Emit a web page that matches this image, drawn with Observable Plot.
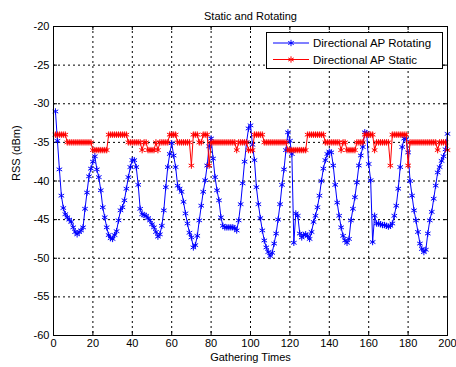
<!DOCTYPE html>
<html><head><meta charset="utf-8">
<script src="https://cdn.jsdelivr.net/npm/d3@7"></script>
<script src="https://cdn.jsdelivr.net/npm/@observablehq/plot@0.6"></script>
<style>html,body{margin:0;padding:0;background:#fff}svg{display:block}</style>
</head><body><div id="chart"></div>
<script>
const gatheringTimes = d3.range(1, 201);
const rotatingRSS = [
-31,-34.8,-38.5,-41.9,-43.5,-44.3,-44.7,-45,-45.3,-46,
-46.6,-46.9,-46.6,-46.4,-46,-43.6,-41.5,-39.4,-38.4,-37.5,
-36.8,-38.5,-39.5,-41.2,-43.4,-44.7,-46,-47,-47.4,-47.5,
-47,-46.5,-45.1,-43.8,-43.4,-42.5,-41,-39.5,-38.2,-37.3,
-37.3,-38.2,-40.5,-43.6,-44.3,-44.4,-44.5,-44.8,-45.1,-45.6,
-46,-46.6,-47.2,-46.9,-45.8,-43.8,-40.8,-38.2,-36.5,-35.1,
-36.7,-38.2,-40.6,-41,-41.4,-42.7,-44.2,-45.5,-46.7,-47.3,
-48.6,-48.3,-47.1,-45.1,-43.2,-41.4,-39.9,-38,-35.5,-34.5,
-37.1,-39.5,-41.2,-42.5,-44.7,-45.8,-46,-46,-46,-46,
-46,-46.1,-46.4,-45.1,-43,-40.3,-37.5,-35,-33.2,-32.8,
-35.3,-37.3,-40.8,-43,-44.8,-46.4,-47.7,-48.6,-49.2,-49.7,
-49.3,-48.1,-46.8,-45,-43,-40.5,-38.5,-36,-33.7,-34.8,
-36.5,-48,-44.2,-44.5,-46.8,-47.3,-47,-46.9,-47.1,-47.5,
-46.6,-45.3,-44.5,-43.4,-41.9,-40,-38.4,-37.3,-36.5,-36.2,
-36.3,-38,-40.5,-42.8,-44.5,-46,-47.1,-47.7,-48,-47.5,
-45.1,-43.6,-42.1,-40.2,-38,-36.7,-35.6,-33.7,-33.8,-37.8,
-39.9,-47.9,-44.5,-45.5,-45.5,-45.6,-45.7,-45.7,-45.8,-45.9,
-45.8,-45.5,-44.5,-43.2,-41,-38.2,-35.6,-34.5,-34.6,-36.3,
-40,-41.9,-43.8,-45.1,-46.6,-48.1,-48.8,-49.2,-48.9,-46.8,
-45.1,-44,-42.3,-40.6,-38.9,-38.2,-37.4,-36.8,-35.9,-33.9
];
const staticRSS = [
-34,-34,-34,-34,-34,-34,-35,-35,-35,-35,
-35,-35,-35,-35,-35,-35,-35,-35,-35,-36,
-36,-36,-36,-36,-36,-36,-36,-34,-34,-34,
-34,-34,-34,-34,-34,-34,-34,-35,-35,-35,
-35,-35,-35,-35,-36,-35,-35,-36,-36,-36,
-36,-35,-36,-35,-35,-35,-35,-35,-34,-34,
-34,-34,-35,-35,-35,-35,-35,-35,-35,-38,
-34,-34,-34,-35,-35,-34,-34,-34,-38,-35,
-35,-35,-35,-35,-35,-35,-35,-35,-35,-35,
-35,-35,-36,-35,-35,-35,-35,-35,-36,-36,
-36,-34,-34,-34,-34,-34,-35,-35,-35,-35,
-35,-35,-35,-35,-35,-35,-35,-35,-36,-36,
-36,-36,-36,-36,-36,-36,-36,-36,-34,-34,
-34,-34,-34,-34,-34,-34,-34,-35,-35,-35,
-35,-35,-35,-35,-35,-36,-35,-35,-36,-36,
-36,-36,-36,-35,-35,-35,-35,-34,-34,-34,
-34,-34,-36,-35,-35,-35,-35,-35,-35,-35,
-38,-34,-34,-34,-34,-34,-34,-34,-34,-38,
-35,-35,-35,-35,-35,-35,-35,-35,-35,-35,
-35,-35,-35,-35,-36,-35,-35,-35,-35,-36
];
const xTicks = [0,20,40,60,80,100,120,140,160,180,200];
const yTicks = [-60,-55,-50,-45,-40,-35,-30,-25,-20];
const seriesNames = ["Directional AP Rotating", "Directional AP Static"];
const seriesColors = ["#0000ff", "#ff0000"];
const titleText = "Static and Rotating";
const xLabel = "Gathering Times";
const yLabel = "RSS (dBm)";

const W = 456, H = 367, mL = 53, mR = 9, mT = 26, mB = 32;
const pw = W - mL - mR, ph = H - mT - mB;
const rot = gatheringTimes.map((t, i) => ({t, v: rotatingRSS[i]}));
const sta = gatheringTimes.map((t, i) => ({t, v: staticRSS[i]}));
const gridStyle = {stroke: "black", strokeOpacity: 1, strokeWidth: 1, strokeDasharray: "2,3"};
const FONT = "'Liberation Sans', Arial, sans-serif";

const chart = Plot.plot({
  width: W, height: H,
  marginLeft: mL, marginRight: mR, marginTop: mT, marginBottom: mB,
  style: {fontFamily: FONT, fontSize: "11px", background: "white", color: "black"},
  x: {domain: [0, 200], label: null},
  y: {domain: [-60, -20], label: null},
  marks: [
    Plot.gridX(xTicks.slice(1, -1), gridStyle),
    Plot.gridY(yTicks.slice(1, -1), gridStyle),
    Plot.ruleX(xTicks, {stroke: "black", insetTop: ph - 4}),
    Plot.ruleX(xTicks, {stroke: "black", insetBottom: ph - 4}),
    Plot.ruleY(yTicks, {stroke: "black", insetRight: pw - 4}),
    Plot.ruleY(yTicks, {stroke: "black", insetLeft: pw - 4}),
    Plot.axisX(xTicks, {tickSize: 0, tickPadding: 4, fontSize: 11, tickFormat: d => String(d)}),
    Plot.axisY(yTicks, {tickSize: 0, tickPadding: 4, fontSize: 11, tickFormat: d => String(d)}),
    Plot.line(rot, {x: "t", y: "v", stroke: seriesColors[0], strokeWidth: 1}),
    Plot.dot(rot, {x: "t", y: "v", stroke: seriesColors[0], symbol: "asterisk", r: 3, strokeWidth: 1}),
    Plot.line(sta, {x: "t", y: "v", stroke: seriesColors[1], strokeWidth: 1}),
    Plot.dot(sta, {x: "t", y: "v", stroke: seriesColors[1], symbol: "asterisk", r: 3, strokeWidth: 1}),
    Plot.frame({stroke: "black", strokeWidth: 1}),
    Plot.text([titleText], {text: d => d, frameAnchor: "top", dy: -14, fontSize: 11}),
    Plot.text([xLabel], {text: d => d, frameAnchor: "bottom", dy: 25, fontSize: 11}),
    Plot.text([yLabel], {text: d => d, frameAnchor: "left", rotate: -90, dx: -37, fontSize: 11})
  ]
});
document.getElementById("chart").appendChild(chart);

// legend
const svg = d3.select(chart);
const lg = svg.append("g").attr("font-family", FONT).attr("font-size", 11.5).attr("text-anchor", "start");
lg.append("rect").attr("x", 266.5).attr("y", 32.5).attr("width", 176).attr("height", 36)
  .attr("fill", "white").attr("stroke", "black");
seriesNames.forEach((name, i) => {
  const y = 43 + i * 16.5;
  lg.append("line").attr("x1", 273).attr("x2", 309).attr("y1", y).attr("y2", y)
    .attr("stroke", seriesColors[i]).attr("stroke-width", 1);
  lg.append("path").attr("transform", `translate(291,${y})`)
    .attr("d", d3.symbol(d3.symbolAsterisk, 28)()).attr("stroke", seriesColors[i]).attr("fill", "none");
  lg.append("text").attr("x", 313).attr("y", y).attr("dy", "0.35em").attr("text-anchor", "start")
    .attr("fill", "black").text(name);
});
</script>
</body></html>
